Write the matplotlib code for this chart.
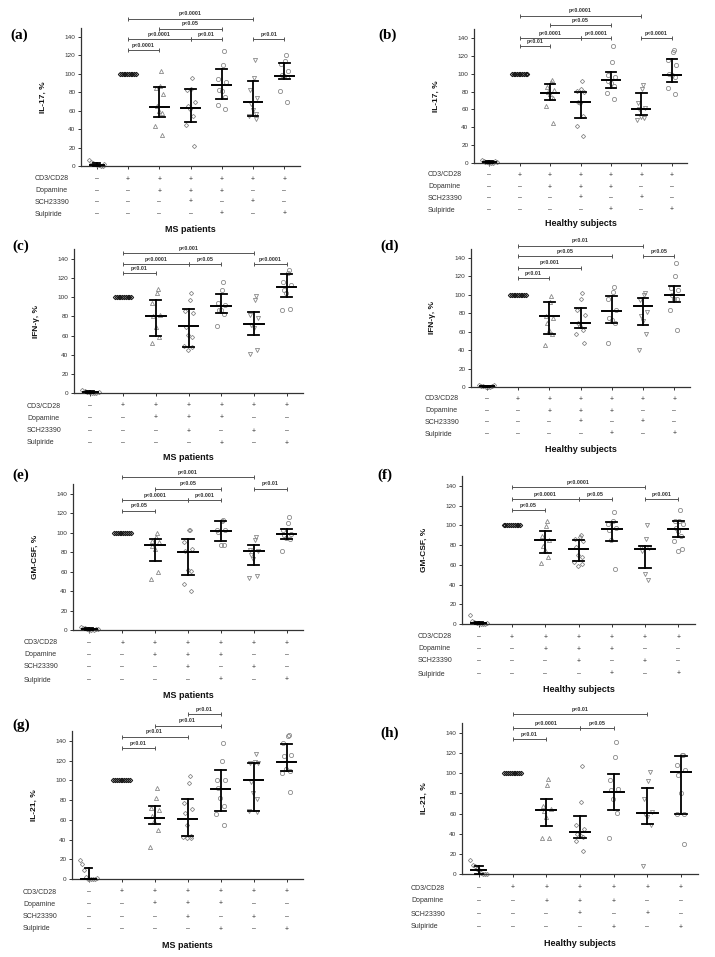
import numpy as np
import matplotlib
matplotlib.use("Agg")
import matplotlib.pyplot as plt

plt.rcParams['font.family'] = ['Liberation Sans', 'DejaVu Sans']

# ---------------- data ----------------
cd3 = ['–', '+', '+', '+', '+', '+', '+']
dop = ['–', '–', '+', '+', '+', '–', '–']
sch = ['–', '–', '–', '+', '–', '+', '–']
sul = ['–', '–', '–', '–', '+', '–', '+']
row_names = ['CD3/CD28', 'Dopamine', 'SCH23390', 'Sulpiride']
markers = ['D', 'D', '^', 'D', 'o', 'v', 'o']

a_pts = [[6, 4, 3, 2, 1, 1, 0.5, 0, 2], [100] * 10,
         [103, 87, 85, 78, 65, 60, 57, 43, 34],
         [95, 84, 83, 69, 65, 62, 54, 44, 22],
         [125, 110, 94, 91, 83, 81, 75, 66, 62],
         [115, 96, 83, 74, 67, 61, 56, 54, 51],
         [121, 114, 111, 103, 99, 98, 97, 81, 69]]
a_med = [1, 100, 64, 63, 88, 69, 98]
a_q1 = [0, 100, 53, 48, 73, 54, 94]
a_q3 = [3, 100, 86, 84, 105, 92, 112]
a_sig = [(1, 5, 160, 'p<0.0001'), (2, 4, 149, 'p<0.05'), (1, 3, 138, 'p<0.0001'),
         (3, 4, 138, 'p<0.01'), (1, 2, 125.5, 'p<0.0001'), (5, 6, 138, 'p<0.01')]

b_pts = [[3, 2, 1, 1, 0.5, 0, 0, 2, 1], [100] * 10,
         [93, 91, 85, 82, 79, 77, 73, 64, 45],
         [92, 83, 81, 79, 68, 67, 53, 41, 30],
         [131, 113, 98, 96, 92, 90, 86, 78, 72],
         [87, 83, 67, 62, 60, 52, 50, 48],
         [126, 124, 115, 110, 100, 98, 96, 84, 77]]
b_med = [1, 100, 78, 68, 93, 60, 99]
b_q1 = [0, 100, 70, 50, 84, 54, 91]
b_q3 = [2, 100, 88, 80, 102, 78, 117]
b_sig = [(1, 5, 165, 'p<0.0001'), (2, 4, 154.5, 'p<0.05'), (1, 3, 140, 'p<0.0001'),
         (3, 4, 140, 'p<0.0001'), (1, 2, 130.5, 'p<0.01'), (5, 6, 140, 'p<0.0001')]

c_pts = [[3, 2, 1, 1, 0.5, 0, 0, 1], [100] * 10,
         [109, 105, 94, 82, 80, 69, 58, 52],
         [104, 97, 86, 84, 69, 61, 58, 49, 48, 45],
         [116, 108, 94, 92, 87, 87, 83, 70],
         [101, 97, 82, 78, 71, 68, 45, 41],
         [128, 125, 116, 113, 108, 104, 88, 87]]
c_med = [1, 100, 80, 70, 91, 72, 111]
c_q1 = [0, 100, 60, 48, 84, 61, 100]
c_q3 = [2, 100, 97, 88, 103, 85, 124]
c_sig = [(1, 5, 146, 'p<0.001'), (1, 3, 134.5, 'p<0.0001'), (3, 4, 134.5, 'p<0.05'),
         (1, 2, 125, 'p<0.01'), (5, 6, 134.5, 'p<0.0001')]

d_pts = [[2, 1, 1, 0.5, 0, 0, 1, 2], [100] * 10,
         [99, 92, 77, 75, 69, 62, 57, 46],
         [102, 96, 84, 78, 69, 66, 62, 58, 48],
         [108, 103, 96, 84, 75, 73, 69, 48],
         [102, 100, 94, 81, 77, 72, 57, 40],
         [135, 121, 107, 105, 100, 96, 95, 84, 62]]
d_med = [1, 100, 77, 69, 83, 88, 100]
d_q1 = [0, 100, 58, 64, 70, 67, 92]
d_q3 = [1, 100, 92, 86, 99, 97, 110]
d_sig = [(1, 5, 153.5, 'p<0.01'), (1, 4, 142, 'p<0.05'), (1, 3, 129.5, 'p<0.001'),
         (1, 2, 118.5, 'p<0.01'), (5, 6, 142, 'p<0.05')]

e_pts = [[3, 2, 2, 1, 0.5, 0, 0, 1, 1], [100] * 10,
         [100, 96, 92, 91, 86, 83, 60, 53],
         [103, 103, 91, 83, 81, 62, 61, 47, 40],
         [113, 112, 103, 103, 101, 88, 87],
         [96, 93, 82, 81, 77, 73, 56, 54],
         [116, 110, 103, 99, 98, 95, 94, 81]]
e_med = [1, 100, 88, 80, 102, 81, 99]
e_q1 = [0, 100, 71, 57, 92, 67, 94]
e_q3 = [2, 100, 94, 94, 112, 87, 104]
e_sig = [(1, 5, 157, 'p<0.001'), (2, 4, 145.5, 'p<0.05'), (1, 3, 133.5, 'p<0.0001'),
         (3, 4, 133.5, 'p<0.001'), (1, 2, 123, 'p<0.05'), (5, 6, 145.5, 'p<0.01')]

f_pts = [[9, 3, 2, 1, 1, 0.5, 0, 0, 1], [100] * 10,
         [104, 99, 89, 85, 79, 75, 68, 62],
         [90, 88, 86, 84, 78, 70, 68, 63, 61, 59],
         [114, 104, 101, 97, 95, 85, 56],
         [100, 86, 78, 77, 74, 51, 45],
         [116, 104, 104, 101, 97, 94, 89, 84, 76, 74]]
f_med = [1, 100, 85, 76, 96, 76, 96]
f_q1 = [0, 100, 72, 64, 84, 57, 88]
f_q3 = [2, 100, 94, 85, 103, 79, 104]
f_sig = [(1, 5, 138.5, 'p<0.0001'), (1, 3, 126.5, 'p<0.0001'), (3, 4, 126.5, 'p<0.05'),
         (1, 2, 115.5, 'p<0.05'), (5, 6, 126.5, 'p<0.001')]

g_pts = [[19, 15, 9, 2, 0, 0, 0, 0, 0, 1], [100] * 10,
         [92, 82, 72, 70, 64, 59, 50, 32],
         [105, 97, 77, 71, 67, 55, 44, 43, 42, 42],
         [138, 120, 100, 100, 92, 82, 74, 66, 55],
         [127, 119, 118, 118, 98, 87, 81, 69, 68],
         [146, 145, 138, 126, 125, 112, 110, 108, 88]]
g_med = [0, 100, 62, 61, 91, 100, 119]
g_q1 = [0, 100, 56, 44, 69, 69, 110]
g_q3 = [11, 100, 74, 81, 111, 118, 137]
g_sig = [(3, 4, 167, 'p<0.01'), (2, 4, 155.5, 'p<0.01'), (1, 3, 144.5, 'p<0.01'),
         (1, 2, 132.5, 'p<0.01')]

h_pts = [[14, 9, 8, 5, 4, 1, 0, 0, 0], [100] * 10,
         [94, 88, 68, 65, 63, 57, 36, 36],
         [107, 71, 49, 45, 40, 39, 37, 33, 23],
         [131, 116, 93, 84, 83, 74, 61, 36],
         [101, 92, 74, 62, 60, 57, 49, 8],
         [118, 118, 108, 103, 98, 80, 60, 60, 30]]
h_med = [4, 100, 64, 42, 81, 61, 101]
h_q1 = [0, 100, 48, 36, 64, 50, 60]
h_q3 = [8, 100, 74, 58, 99, 85, 117]
h_sig = [(1, 5, 158.5, 'p<0.01'), (1, 3, 145, 'p<0.0001'), (3, 4, 145, 'p<0.05'),
         (1, 2, 134, 'p<0.01')]

# ---------------- layout (pixels) ----------------
W, H = 715, 957
fig = plt.figure(figsize=(W / 100, H / 100), dpi=100)

panels = [
    ('(a)', a_pts, a_med, a_q1, a_q3, a_sig, 'IL-17, %', 'MS patients', (81, 300, 166, 37), (10, 35), [179, 191, 202, 214], 229, 35),
    ('(b)', b_pts, b_med, b_q1, b_q3, b_sig, 'IL-17, %', 'Healthy subjects', (474, 687, 163, 38), (378, 35), [175, 187, 198, 210], 224, 428),
    ('(c)', c_pts, c_med, c_q1, c_q3, c_sig, 'IFN-γ, %', 'MS patients', (74, 303, 393, 259), (12, 246), [406, 418, 431, 443], 458, 27),
    ('(d)', d_pts, d_med, d_q1, d_q3, d_sig, 'IFN-γ, %', 'Healthy subjects', (471, 690, 387, 258), (380, 246), [399, 411, 422, 434], 450, 425),
    ('(e)', e_pts, e_med, e_q1, e_q3, e_sig, 'GM-CSF, %', 'MS patients', (73, 303, 630, 494), (12, 475), [643, 655, 667, 680], 695, 24),
    ('(f)', f_pts, f_med, f_q1, f_q3, f_sig, 'GM-CSF, %', 'Healthy subjects', (462, 695, 624, 486), (377, 475), [637, 649, 661, 674], 690, 418),
    ('(g)', g_pts, g_med, g_q1, g_q3, g_sig, 'IL-21, %', 'MS patients', (72, 303, 879, 741), (12, 725), [892, 904, 917, 929], 945, 23),
    ('(h)', h_pts, h_med, h_q1, h_q3, h_sig, 'IL-21, %', 'Healthy subjects', (462, 698, 874, 733), (380, 733), [888, 901, 914, 927], 943, 411),
]

GRAY = '#8a8a8a'
DARK = '#1a1a1a'

for (lab, pts, med, q1, q3, sig, ylab, title, box, lpos, rows_px, title_px, rowx) in panels:
    left, right, y0, y140 = box
    ppu = (y0 - y140) / 140.0
    top = y0 - 150 * ppu
    ax = fig.add_axes([left / W, 1 - y0 / H, (right - left) / W, (y0 - top) / H])
    ax.set_xlim(-0.5, 6.5)
    ax.set_ylim(0, 150)
    for s in ['top', 'right']:
        ax.spines[s].set_visible(False)
    for s in ['left', 'bottom']:
        ax.spines[s].set_linewidth(0.9)
        ax.spines[s].set_color('#333333')
    ax.set_yticks(np.arange(0, 141, 20))
    ax.set_xticks(range(7))
    ax.set_xticklabels([])
    ax.tick_params(axis='y', length=2.5, width=0.7, labelsize=4.6, pad=1.5, colors='#333333')
    ax.tick_params(axis='x', length=2.5, width=0.7, colors='#333333')

    for i, vals in enumerate(pts):
        v = np.array(vals, dtype=float)
        n = len(v)
        if i <= 1:
            offs = np.linspace(-0.25, 0.25, n)
        else:
            order = np.argsort(-v)
            rank = np.empty(n, dtype=int)
            rank[order] = np.arange(n)
            offs = 0.13 * np.sin(rank * 2.4 + 0.5)
        col = DARK if i == 1 else GRAY
        ms = 2.2 if markers[i] == 'D' else 3.0
        mew = 0.8 if i == 1 else 0.6
        ax.plot(i + offs, v, linestyle='none', marker=markers[i], markersize=ms,
                markerfacecolor='none', markeredgecolor=col, markeredgewidth=mew,
                clip_on=False, zorder=2)
        if i == 1:
            continue
        w = 0.3 if i > 0 else 0.22
        cw = 0.17 if i > 0 else 0.12
        ax.plot([i, i], [q1[i], q3[i]], color='black', lw=1.3, zorder=3, clip_on=False)
        ax.plot([i - w, i + w], [med[i], med[i]], color='black', lw=1.4, zorder=3, clip_on=False)
        ax.plot([i - cw, i + cw], [q1[i], q1[i]], color='black', lw=1.3, zorder=3, clip_on=False)
        ax.plot([i - cw, i + cw], [q3[i], q3[i]], color='black', lw=1.3, zorder=3, clip_on=False)

    for (g1, g2, yv, txt) in sig:
        ax.plot([g1, g2], [yv, yv], color='#555555', lw=0.7, clip_on=False,
                marker='|', markersize=3, markeredgewidth=0.7)
        ax.annotate(txt, xy=((g1 + g2) / 2, yv), xytext=(0, 1.6), textcoords='offset points',
                    ha='center', va='bottom', fontsize=3.9, fontweight='bold',
                    color='#333333', annotation_clip=False)

    signs = [cd3, dop, sch, sul]
    for r, ypx in enumerate(rows_px):
        off = -(ypx - y0) * 0.72
        ax.annotate(row_names[r], xy=(0, 0), xycoords='axes fraction',
                    xytext=((rowx - left) * 0.72, off), textcoords='offset points',
                    ha='left', va='center', fontsize=5.0, color='#333333', annotation_clip=False)
        for i in range(7):
            ax.annotate(signs[r][i], xy=(i, 0), xycoords=('data', 'axes fraction'),
                        xytext=(0, off), textcoords='offset points',
                        ha='center', va='center', fontsize=5.0, color='#333333',
                        annotation_clip=False)
    ax.annotate(title, xy=(0.5, 0), xycoords='axes fraction',
                xytext=(0, -(title_px - y0) * 0.72), textcoords='offset points',
                ha='center', va='center', fontsize=6.5, fontweight='bold', color='#111111',
                annotation_clip=False)
    axw = right - left
    ax.text(-38.0 / axw, 0.5, ylab, transform=ax.transAxes, rotation=90,
            ha='center', va='center', fontsize=6.0, fontweight='bold', color='#111111')
    fig.text(lpos[0] / W, 1 - lpos[1] / H, lab, ha='left', va='center',
             fontsize=11, fontweight='bold', family=['Liberation Serif', 'DejaVu Serif'])

fig.savefig('out.png', dpi=100, facecolor='white')
